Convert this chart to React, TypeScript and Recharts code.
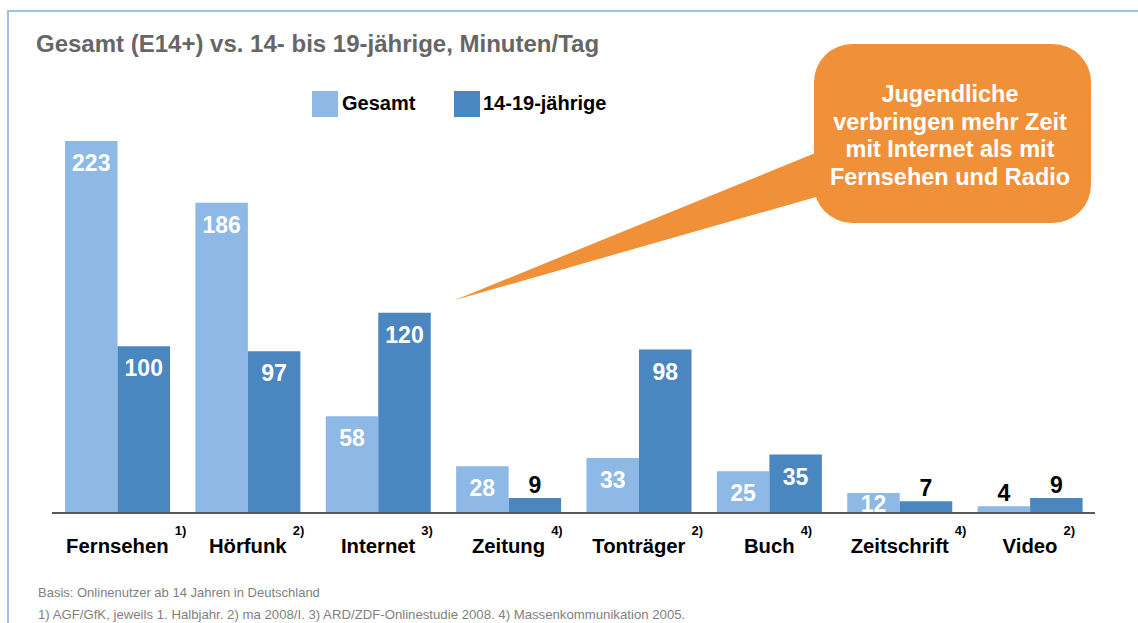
import { BarChart, Bar, XAxis, YAxis, LabelList } from 'recharts'

const kategorien = ['Fernsehen', 'Hörfunk', 'Internet', 'Zeitung', 'Tonträger', 'Buch', 'Zeitschrift', 'Video']
const quellen = ['1)', '2)', '3)', '4)', '2)', '4)', '4)', '2)']
const gesamt = [223, 186, 58, 28, 33, 25, 12, 4]
const jugendliche = [100, 97, 120, 9, 98, 35, 7, 9]

const data = kategorien.map((k, i) => ({ name: k, quelle: quellen[i], gesamt: gesamt[i], jung: jugendliche[i] }))

const HELL = '#8EB8E5'
const DUNKEL = '#4A86C0'
const ORANGE = '#F0913A'
const FONT = '"Liberation Sans", Arial, sans-serif'

const ValueLabel = (p: any) => {
  const { x, y, width, height, value } = p
  const cx = x + width / 2
  if (value < 10) {
    return <text x={cx} y={y - 13} textAnchor="middle" dominantBaseline="central" fontSize={23} fontWeight="bold" fill="#000" fontFamily={FONT}>{value}</text>
  }
  const cy = height >= 40 ? y + 22 : y + height / 2 + 1
  return <text x={cx} y={cy} textAnchor="middle" dominantBaseline="central" fontSize={23} fontWeight="bold" fill="#fff" fontFamily={FONT}>{value}</text>
}

const Tick = (p: any) => {
  const { x, y, index } = p
  return (
    <text x={x + 9} y={y + 40} textAnchor="middle" fontSize={20.3} fontWeight="bold" fill="#000" fontFamily={FONT}>
      <tspan>{kategorien[index]}</tspan>
      <tspan dx={6} dy={-18} fontSize={13}>{quellen[index]}</tspan>
    </text>
  )
}

export default function App() {
  return (
    <div style={{ position: 'absolute', left: 0, top: 0, width: 1138, height: 623, background: '#fff', fontFamily: FONT, overflow: 'hidden' }}>
      <div style={{ position: 'absolute', left: 7, top: 10, width: 1140, height: 620, borderLeft: '2px solid #9DC3E6', borderTop: '2px solid #9DC3E6' }} />

      <BarChart width={1138} height={623} data={data} barSize={52.5} barGap={0}
        margin={{ top: 96, right: 43, bottom: 50, left: 52 }} style={{ position: 'absolute', left: 0, top: 0 }}>
        <XAxis dataKey="name" height={60} tickLine={false} tickSize={0} tickMargin={0} interval={0}
          axisLine={{ stroke: '#595959', strokeWidth: 2 }} tick={<Tick />} />
        <YAxis hide domain={[0, 250]} />
        <Bar dataKey="gesamt" fill={HELL} isAnimationActive={false}>
          <LabelList dataKey="gesamt" content={<ValueLabel />} />
        </Bar>
        <Bar dataKey="jung" fill={DUNKEL} isAnimationActive={false}>
          <LabelList dataKey="jung" content={<ValueLabel />} />
        </Bar>
      </BarChart>

      <div style={{ position: 'absolute', left: 36, top: 30, fontSize: 24, fontWeight: 'bold', color: '#666', whiteSpace: 'nowrap' }}>
        Gesamt (E14+) vs. 14- bis 19-jährige, Minuten/Tag
      </div>

      <div style={{ position: 'absolute', left: 312, top: 91, width: 26, height: 26, background: HELL }} />
      <div style={{ position: 'absolute', left: 342, top: 92, fontSize: 20, fontWeight: 'bold', color: '#000' }}>Gesamt</div>
      <div style={{ position: 'absolute', left: 454, top: 91, width: 26, height: 26, background: DUNKEL }} />
      <div style={{ position: 'absolute', left: 483, top: 92, fontSize: 20, fontWeight: 'bold', color: '#000', whiteSpace: 'nowrap' }}>14-19-jährige</div>

      <svg width={1138} height={623} style={{ position: 'absolute', left: 0, top: 0, pointerEvents: 'none' }}>
        <polygon points="830,147 455,300 830,193" fill={ORANGE} />
        <rect x={814} y={44} width={277} height={179} rx={38} fill={ORANGE} />
        <g fontFamily={FONT} fontSize={23.5} fontWeight="bold" fill="#fff" textAnchor="middle">
          <text x={950} y={94} dominantBaseline="central">Jugendliche</text>
          <text x={950} y={122} dominantBaseline="central">verbringen mehr Zeit</text>
          <text x={950} y={149} dominantBaseline="central">mit Internet als mit</text>
          <text x={950} y={177} dominantBaseline="central">Fernsehen und Radio</text>
        </g>
      </svg>

      <div style={{ position: 'absolute', left: 38, top: 585, fontSize: 13, color: '#7F7F7F', whiteSpace: 'nowrap' }}>
        Basis: Onlinenutzer ab 14 Jahren in Deutschland
      </div>
      <div style={{ position: 'absolute', left: 38, top: 607, fontSize: 13.2, color: '#7F7F7F', whiteSpace: 'nowrap' }}>
        1) AGF/GfK, jeweils 1. Halbjahr. 2) ma 2008/I. 3) ARD/ZDF-Onlinestudie 2008. 4) Massenkommunikation 2005.
      </div>
    </div>
  )
}
